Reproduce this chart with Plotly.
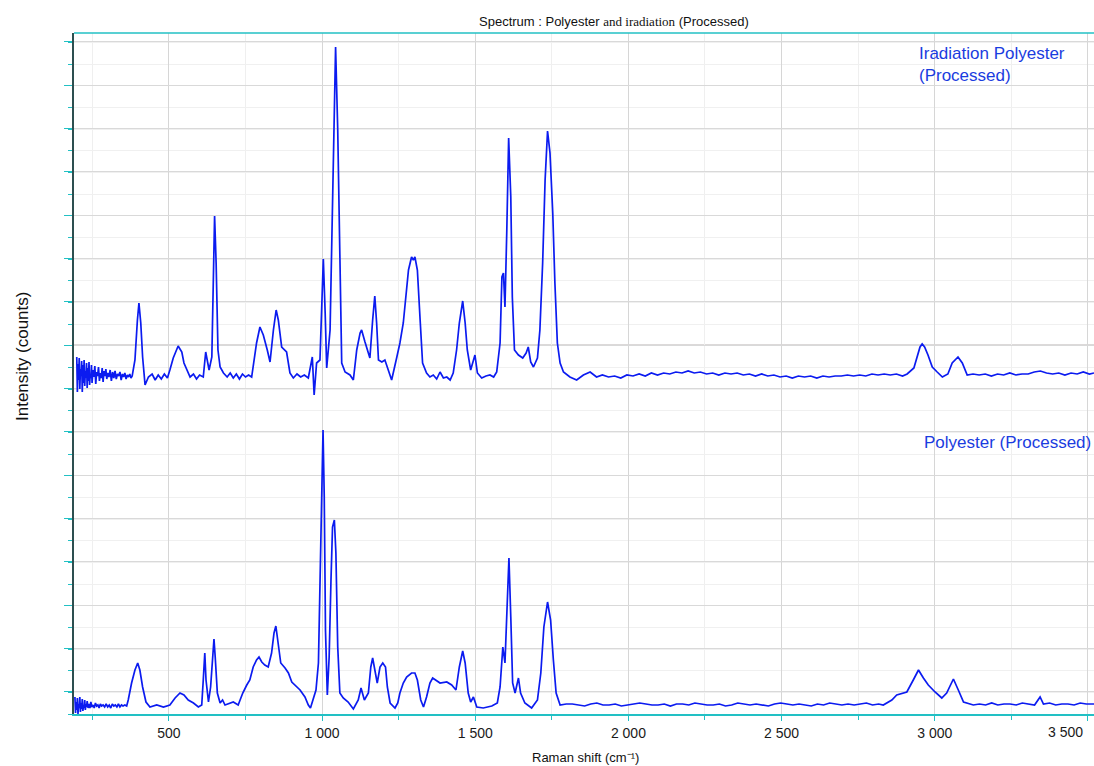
import plotly.graph_objects as go

# ---------------- data ----------------
# Irradiated polyester (upper spectrum): low-shift noisy region, fingerprint region, high-shift region
irr_low_shift = [199, 201, 203, 205, 207, 209, 211, 213, 215, 217, 219, 221, 223, 225, 227, 229, 231, 233, 235, 237,
                 239, 241, 243, 245, 247, 249, 252, 255, 258, 261, 264, 267, 270, 273, 276, 279, 282, 285, 288, 291,
                 294, 297, 300, 304, 308, 312, 316, 320, 324, 328, 332, 336, 340, 344, 348, 352, 356, 360, 364, 368,
                 372, 376, 380]
irr_low_counts = [357, 322, 350, 334, 356, 325, 345, 338, 353, 322, 349, 331, 354, 328, 343, 336, 351, 326, 346, 333,
                  352, 329, 340, 336, 349, 331, 344, 337, 348, 330, 342, 338, 347, 333, 341, 336, 346, 332, 343, 338,
                  345, 335, 341, 337, 344, 333, 342, 336, 343, 335, 340, 338, 342, 334, 340, 337, 341, 335, 339, 337,
                  340, 336, 338]

irr_mid_shift = [389, 397, 402, 408, 414, 422, 433, 445, 455, 465, 475, 485, 495, 503, 514, 530, 542,
                 549, 558, 569, 580, 590, 600, 612, 620, 631, 640, 645, 649, 654, 660, 667, 678, 690, 700, 710, 720,
                 730, 740, 750, 760, 770, 786, 797, 808, 821, 830, 841, 850, 857, 868, 884, 895, 906, 918, 930, 942,
                 955, 968, 974, 982, 993, 999, 1004, 1010, 1015, 1026, 1034, 1044, 1051, 1059, 1064, 1075, 1091, 1102,
                 1113, 1124, 1129, 1140, 1151, 1156, 1165, 1172, 1178, 1184, 1195, 1205, 1216, 1227, 1244, 1254, 1265,
                 1274, 1282, 1292, 1298, 1303, 1311, 1320, 1328, 1341, 1352, 1363, 1374, 1385, 1396, 1407, 1418, 1428,
                 1439, 1448, 1459, 1467, 1474, 1485, 1494, 1499, 1507, 1521, 1535, 1548, 1560, 1570, 1581, 1587, 1592,
                 1597, 1603, 1609, 1616, 1621, 1628, 1641, 1655, 1666, 1673, 1681, 1690, 1703, 1711, 1720, 1728, 1736,
                 1744, 1753, 1760, 1768, 1777, 1788, 1809, 1831, 1853, 1875]
irr_mid_counts = [354, 394, 411, 391, 357, 329, 337, 340, 334, 339, 335, 340, 336, 344, 356, 368, 362,
                  351, 344, 337, 340, 335, 339, 337, 362, 344, 357, 434, 498, 451, 364, 347, 341, 337, 341, 336, 340,
                  335, 340, 337, 339, 337, 371, 387, 379, 364, 352, 384, 404, 394, 367, 362, 341, 336, 340, 337, 339,
                  336, 357, 319, 351, 354, 401, 455, 401, 346, 384, 517, 667, 584, 417, 351, 342, 339, 334,
                  364, 381, 384, 372, 361, 356, 394, 418, 391, 354, 352, 354, 344, 334, 357, 371, 391,
                  421, 444, 457, 454, 457, 444, 394, 351, 341, 337, 339, 335, 342, 336, 337, 334, 341,
                  364, 391, 413, 391, 364, 344, 354, 359, 341, 336, 338, 339, 337, 342, 371, 437, 441,
                  407, 484, 576, 517, 417, 364, 359, 356, 361, 367, 352, 347, 356, 384, 451, 534, 583,
                  561, 501, 431, 371, 351, 342, 337, 334, 339, 342]

irr_high_shift = [1896, 1915, 1935, 1955, 1975, 1995, 2015, 2035, 2055, 2075, 2095, 2115, 2135, 2155, 2175, 2195,
                  2215, 2235, 2255, 2275, 2295, 2315, 2335, 2355, 2375, 2395, 2415, 2435, 2455, 2475, 2495, 2515,
                  2535, 2555, 2575, 2595, 2615, 2635, 2655, 2675, 2695, 2715, 2735, 2755, 2775, 2795, 2815, 2835,
                  2855, 2875, 2895, 2910, 2932, 2943, 2952, 2959, 2967, 2978, 2992, 3008, 3025, 3043, 3057, 3076,
                  3090, 3106, 3125, 3145, 3165, 3185, 3205, 3225, 3245, 3265, 3285, 3305, 3325, 3345, 3365, 3385,
                  3405, 3425, 3445, 3465, 3485, 3505, 3520]
irr_high_counts = [337, 339, 337, 338, 336, 339, 338, 340, 338, 341, 339, 341, 340, 342, 341, 343,
                   341, 342, 340, 341, 339, 341, 340, 341, 339, 340, 338, 340, 338, 339, 337, 338,
                   336, 338, 337, 338, 336, 338, 337, 338, 338, 339, 338, 339, 338, 340, 339, 340,
                   339, 340, 338, 340, 346, 359, 367, 370, 367, 359, 347, 342, 337, 340, 351, 357,
                   351, 339, 340, 339, 340, 338, 340, 339, 341, 339, 340, 340, 342, 343, 341, 340,
                   341, 339, 341, 340, 342, 340, 341]

# Polyester (lower spectrum)
pet_low_shift = [193, 195, 197, 199, 201, 203, 205, 207, 209, 211, 213, 215, 217, 219, 221, 223, 225, 227, 229, 231,
                 233, 236, 239, 242, 245, 248, 252, 256, 260, 264, 268, 272, 276, 280, 285, 290, 295, 300, 305, 310,
                 315, 320, 325, 330, 335, 340, 345, 350, 356, 362]
pet_low_counts = [17, 1, 12, 4, 16, 0, 10, 6, 17, 2, 11, 5, 15, 3, 9, 6, 14, 4, 10, 7,
                  13, 6, 10, 6, 12, 7, 9, 6, 11, 8, 9, 6, 10, 8, 9, 7, 10, 7, 9, 6,
                  10, 8, 9, 7, 10, 7, 9, 8, 9, 8]

pet_mid_shift = [367, 378, 389, 398, 405, 414, 425, 438, 460, 482, 503, 520, 536, 549, 563, 580,
                 596, 607, 612, 617, 621, 629, 636, 643, 647, 651, 658, 667, 675, 683, 699, 710, 726, 741, 754, 764,
                 775, 786, 794, 803, 813, 824, 835, 843, 849, 857, 865, 879, 890, 901, 911, 928, 944, 955, 962, 971,
                 980, 988, 993, 998, 1003, 1007, 1011, 1017, 1023, 1029, 1034, 1040, 1045, 1051, 1058, 1069, 1085,
                 1102, 1118, 1127, 1138, 1151, 1159, 1165, 1173, 1180, 1189, 1198, 1207, 1213, 1222, 1238, 1247, 1254,
                 1265, 1276, 1292, 1303, 1311, 1322, 1331, 1341, 1352, 1361, 1385, 1407, 1423, 1437, 1448, 1459, 1467,
                 1477, 1485, 1494, 1505, 1526, 1554, 1572, 1581, 1590, 1597, 1605, 1610, 1616, 1622, 1630, 1641, 1648,
                 1662, 1684, 1703, 1714, 1724, 1736, 1746, 1755, 1764]
pet_mid_counts = [14, 31, 44, 51, 44, 27, 12, 7, 9, 7, 9, 16, 21, 19, 14, 11,
                  7, 9, 34, 61, 34, 12, 27, 61, 75, 57, 21, 11, 14, 9, 11, 12, 9, 21, 29, 34,
                  47, 54, 57, 52, 49, 47, 61, 81, 88, 71, 51, 46, 41, 32, 29, 24, 17, 9, 6, 14,
                  24, 51, 134, 234, 284, 217, 84, 19, 57, 134, 187, 194, 161, 67, 21, 16, 12,
                  5, 14, 26, 14, 21, 47, 56, 44, 31, 47, 51, 47, 27, 11, 6, 11, 21,
                  31, 37, 41, 41, 34, 14, 7, 17, 31, 36, 31, 32, 29, 24, 47, 63, 51,
                  21, 12, 17, 7, 6, 8, 11, 27, 67, 51, 114, 156, 97, 31, 21, 36, 21,
                  11, 6, 14, 41, 87, 112, 94, 54, 21]

pet_high_shift = [1777, 1797, 1817, 1837, 1857, 1877, 1897, 1917, 1937, 1957, 1977, 1997, 2017, 2037, 2057, 2077,
                  2097, 2117, 2137, 2157, 2177, 2197, 2217, 2237, 2257, 2277, 2297, 2317, 2337, 2357, 2377, 2397,
                  2417, 2437, 2457, 2477, 2497, 2517, 2537, 2557, 2577, 2597, 2617, 2637, 2657, 2677, 2697, 2717,
                  2737, 2757, 2777, 2797, 2817, 2832, 2860, 2876, 2909, 2930, 2947, 2963, 2979, 3001, 3023, 3039,
                  3061, 3077, 3094, 3126, 3146, 3166, 3186, 3206, 3226, 3246, 3266, 3286, 3306, 3326, 3344, 3355,
                  3375, 3395, 3415, 3435, 3455, 3475, 3495, 3520]
pet_high_counts = [9, 10, 10, 9, 8, 10, 11, 9, 9, 10, 8, 9, 10, 11, 10, 9,
                   9, 10, 8, 10, 10, 9, 11, 10, 9, 9, 10, 8, 9, 11, 10, 9,
                   10, 9, 8, 10, 11, 10, 9, 10, 9, 8, 10, 9, 11, 10, 9, 10,
                   9, 10, 11, 9, 10, 9, 14, 19, 22, 34, 44, 36, 29, 22, 16, 21,
                   35, 24, 12, 9, 10, 9, 11, 9, 10, 10, 9, 11, 10, 9, 17, 10,
                   11, 9, 10, 10, 9, 11, 10, 10]

x_ticks = [500, 1000, 1500, 2000, 2500, 3000, 3500]
x_ticktext = ["500", "1 000", "1 500", "2 000", "2 500", "3 000", ""]
last_tick_label = "3 500"   # drawn shifted inside the frame, as in the reference

title_text = ("Spectrum : Polyester <span style=\"font-family:'Liberation Serif',serif\">and iradiation</span> (Processed)")
label_irr = "Iradiation Polyester<br>(Processed)"
label_pet = "Polyester (Processed)"
x_title = "Raman shift (cm⁻¹)"
y_title = "Intensity (counts)"

irr_shift = irr_low_shift + irr_mid_shift + irr_high_shift
irr_counts = irr_low_counts + irr_mid_counts + irr_high_counts
pet_shift = pet_low_shift + pet_mid_shift + pet_high_shift
pet_counts = pet_low_counts + pet_mid_counts + pet_high_counts

# ---------------- figure ----------------
W, H = 1094, 766
L, R, T, B = 74, 0, 33, 52
pw, ph = W - L - R, H - T - B

def px(x):  # pixel -> paper x
    return (x - L) / pw

def py(y):  # pixel -> paper y
    return (H - B - y) / ph

LINE = "#0b1bf0"
TEAL = "#22c0c4"

fig = go.Figure()
fig.add_trace(go.Scatter(x=irr_shift, y=irr_counts, mode="lines",
                         line=dict(color=LINE, width=1.7), name=label_irr, hoverinfo="skip"))
fig.add_trace(go.Scatter(x=pet_shift, y=pet_counts, mode="lines",
                         line=dict(color=LINE, width=1.7), name=label_pet, hoverinfo="skip"))

fig.update_layout(
    width=W, height=H,
    margin=dict(l=L, r=R, t=T, b=B, autoexpand=False),
    paper_bgcolor="white", plot_bgcolor="white",
    showlegend=False,
    font=dict(family="Liberation Sans, Arial, sans-serif", color="#1a1a1a"),
    xaxis=dict(
        range=[190, 3520], tickmode="array", tickvals=x_ticks, ticktext=x_ticktext,
        ticks="outside", ticklen=5, tickcolor=TEAL, tickwidth=1,
        showgrid=True, gridcolor="#d6d6d6", gridwidth=1,
        minor=dict(dtick=250, tick0=0, ticks="outside", ticklen=4, tickcolor=TEAL,
                   showgrid=True, gridcolor="#efefef"),
        showline=True, linecolor=TEAL, linewidth=2,
        zeroline=False, automargin=False,
        tickfont=dict(family="Liberation Sans, Arial, sans-serif", size=14, color="#1a1a1a"),
    ),
    yaxis=dict(
        range=[0, 681], tickmode="linear", tick0=22.3, dtick=43.33,
        showticklabels=False, ticks="outside", ticklen=8, tickcolor=TEAL, tickwidth=1,
        showgrid=True, gridcolor="#d9d9d9", gridwidth=1,
        minor=dict(dtick=21.665, ticks="outside", ticklen=4, tickcolor=TEAL,
                   showgrid=True, gridcolor="#f0f0f0"),
        showline=True, linecolor="#2d4f50", linewidth=1.5,
        zeroline=False, automargin=False,
    ),
)

# top border line and darker gridline
fig.add_shape(type="line", xref="paper", yref="paper", x0=0, x1=1, y0=1, y1=1,
              line=dict(color=TEAL, width=1.5))
fig.add_shape(type="line", xref="paper", yref="y", x0=0, x1=1, y0=369, y1=369,
              line=dict(color="#b9b3b3", width=1), layer="below")

fig.add_annotation(text=title_text, xref="paper", yref="paper", x=px(614), y=py(21),
                   showarrow=False, font=dict(size=13, color="#111"), xanchor="center", yanchor="middle")
fig.add_annotation(text=label_irr, xref="paper", yref="paper", x=px(917), y=py(42),
                   showarrow=False, align="left", xanchor="left", yanchor="top",
                   font=dict(size=17, color="#1a3ce0"))
fig.add_annotation(text=label_pet, xref="paper", yref="paper", x=px(1093), y=py(442),
                   showarrow=False, xanchor="right", yanchor="middle",
                   font=dict(size=17, color="#1a3ce0"))
fig.add_annotation(text=last_tick_label, xref="paper", yref="paper", x=px(1065), y=py(732),
                   showarrow=False, xanchor="center", yanchor="middle",
                   font=dict(family="Liberation Sans, Arial, sans-serif", size=14, color="#1a1a1a"))
fig.add_annotation(text=x_title, xref="paper", yref="paper", x=px(585), y=py(757),
                   showarrow=False, xanchor="center", yanchor="middle",
                   font=dict(size=13, color="#111"))
fig.add_annotation(text=y_title, xref="paper", yref="paper", x=px(22), y=py(357),
                   showarrow=False, textangle=-90, xanchor="center", yanchor="middle",
                   font=dict(size=17, color="#111"))

fig.write_html("out.html", config={"displayModeBar": False},
               post_script="document.body.style.margin='0';document.body.style.overflow='hidden';")
